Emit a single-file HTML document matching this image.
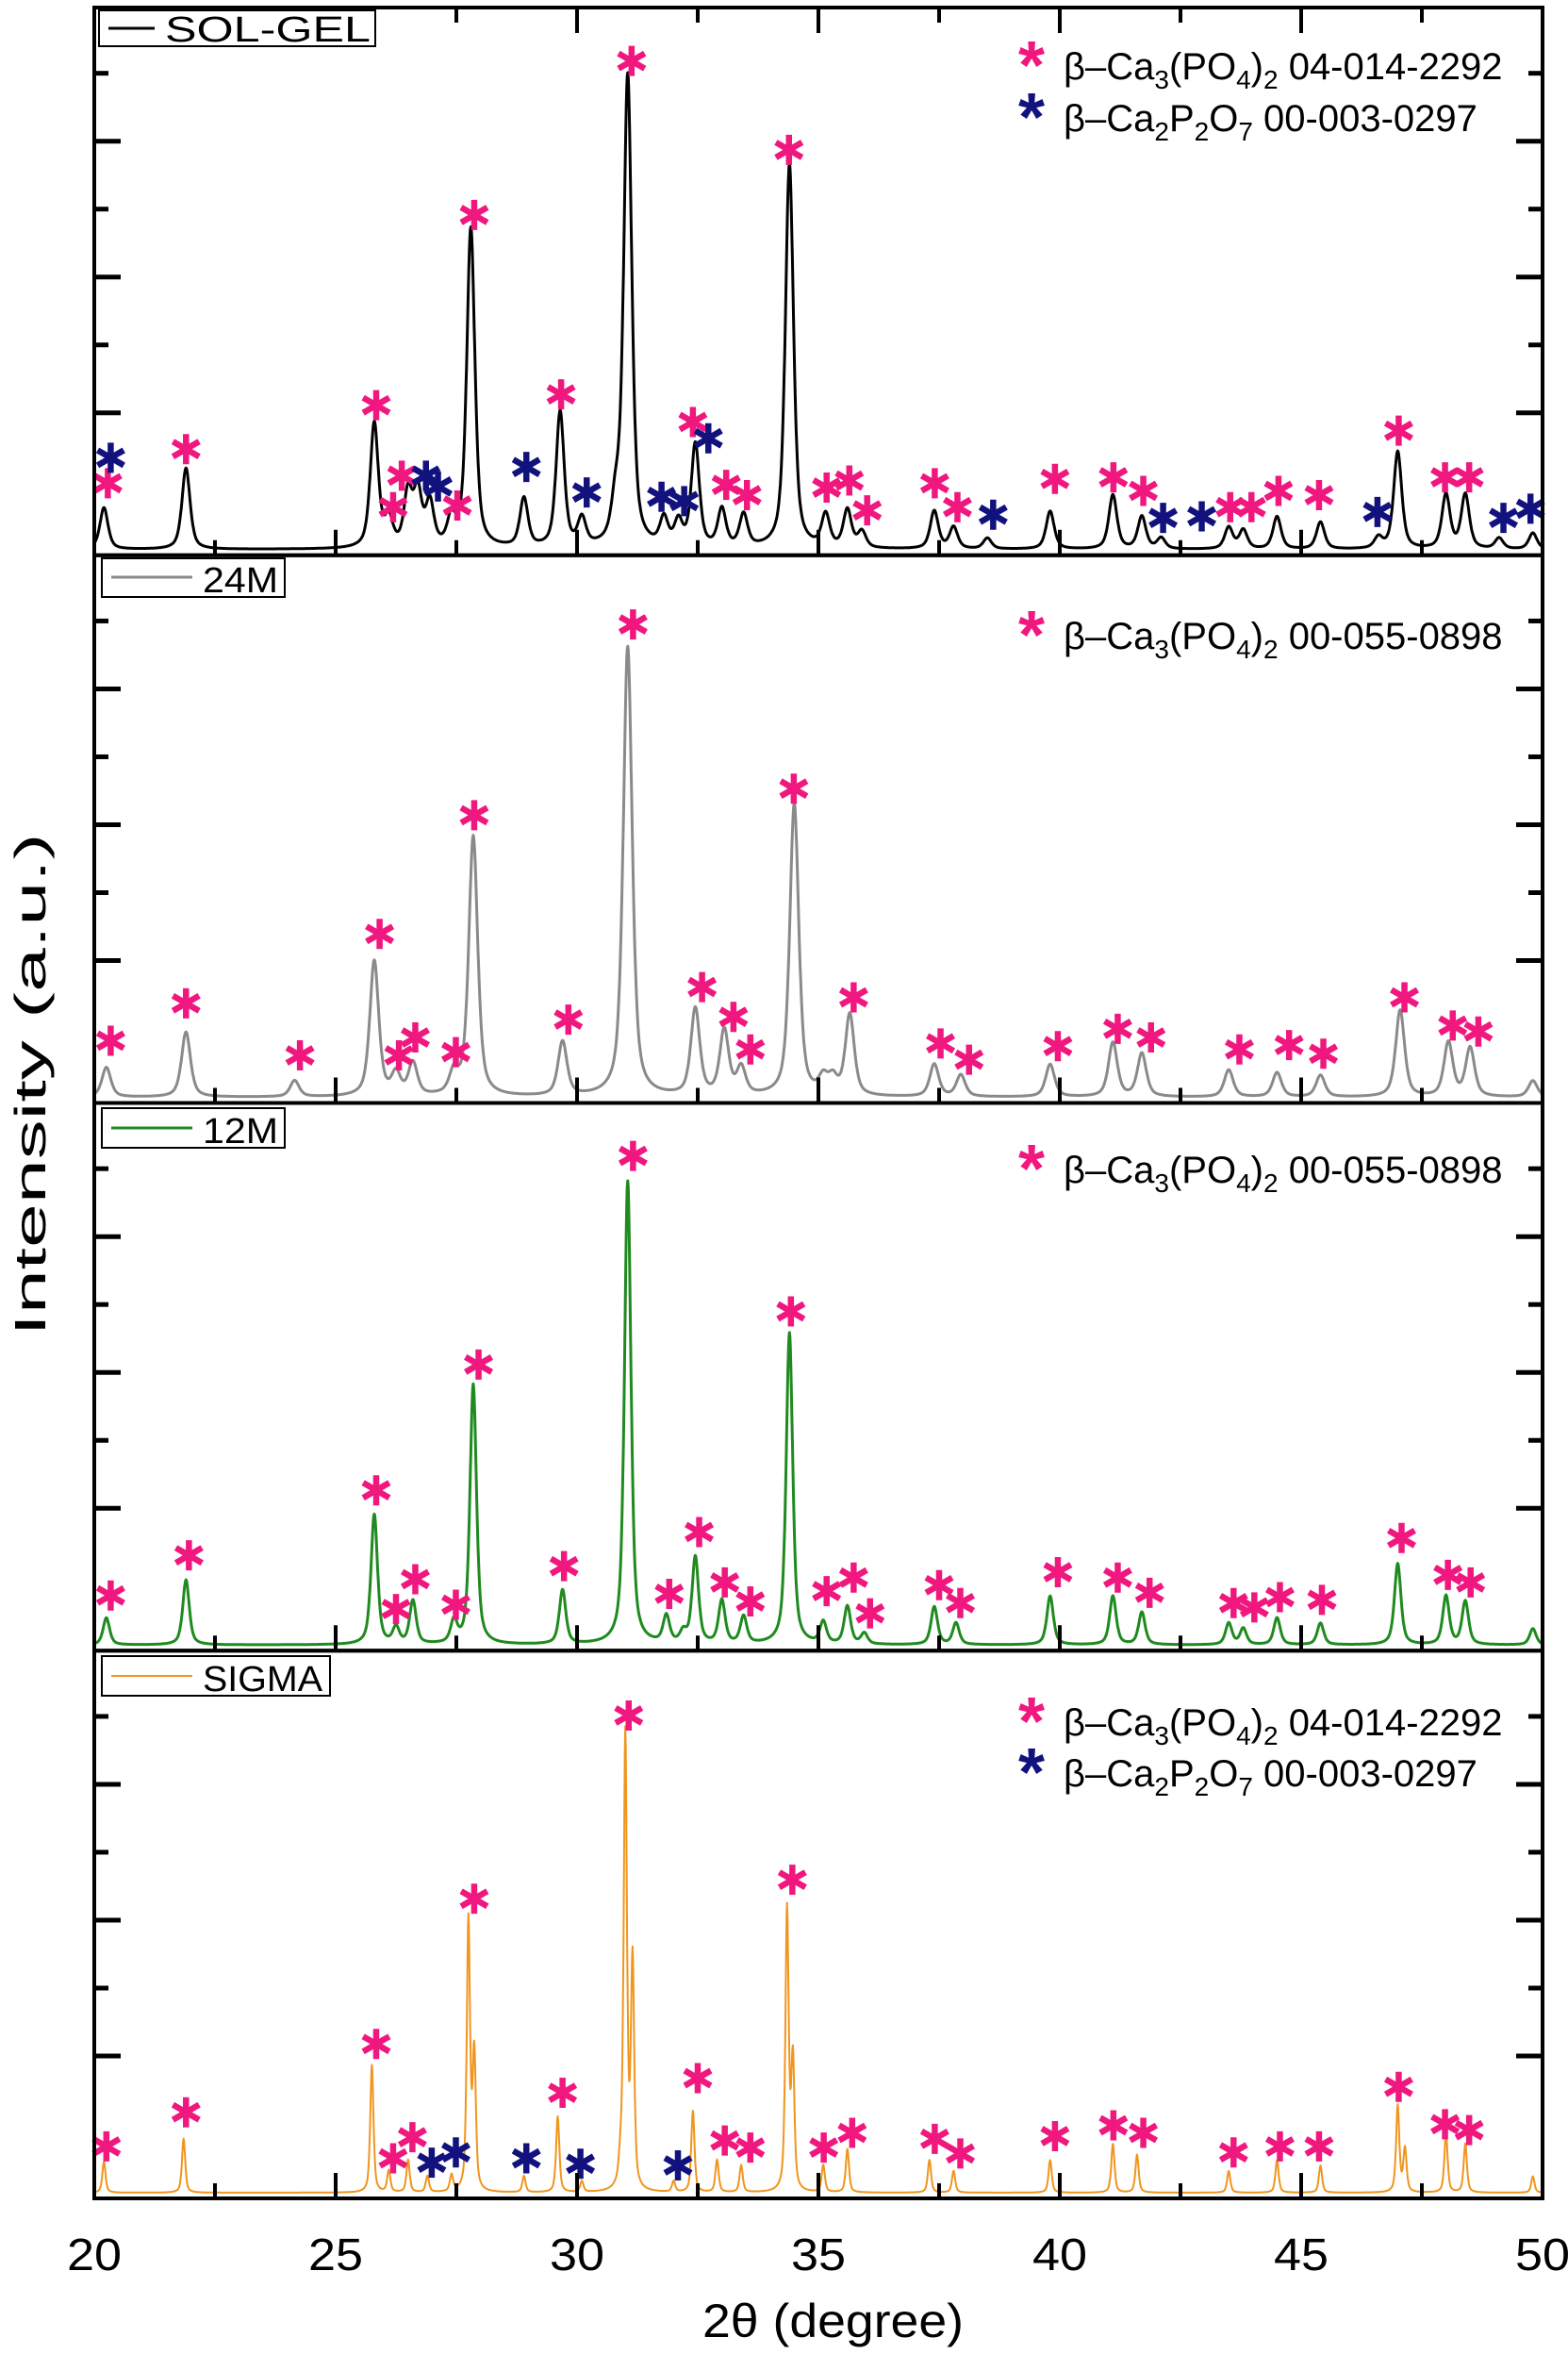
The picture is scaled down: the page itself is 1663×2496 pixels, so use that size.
<!DOCTYPE html>
<html><head><meta charset="utf-8"><style>
html,body{margin:0;padding:0;background:#fff;}
svg{display:block;font-family:"Liberation Sans",Arial,sans-serif;}
</style></head>
<body>
<svg id="chart" xmlns="http://www.w3.org/2000/svg" width="1663" height="2496" viewBox="0 0 1663 2496">
<rect x="0" y="0" width="1663" height="2496" fill="#fff"/>
<g id="curves"></g><g id="stars"></g><g id="axes"></g><g id="labels"></g>
</svg>
<script>
// ---- data ----
const seriesNames = ["SOL-GEL","24M","12M","SIGMA"];
const seriesColors = ["#000000","#8a8a8a","#1f8a1f","#f0951e"];
const seriesWidths = [0.2,0.22,0.16,0.08];
// peak positions (deg) and heights (fraction of panel)
const solgelPos = [20.2,21.9,25.8,26.1,26.5,26.7,26.95,27.4,27.8,28.9,29.65,30.1,30.8,31.05,31.8,32.1,32.45,33.0,33.45,34.4,35.15,35.6,35.9,37.4,37.8,38.5,39.8,41.1,41.7,42.1,43.5,43.8,44.5,45.4,46.6,47.0,48.0,48.4,49.1,49.8];
const solgelH   = [0.077,0.15,0.23,0.05,0.1,0.1,0.08,0.05,0.59,0.09,0.25,0.05,0.07,0.87,0.05,0.045,0.19,0.07,0.06,0.71,0.06,0.07,0.03,0.07,0.04,0.02,0.07,0.1,0.06,0.02,0.04,0.035,0.06,0.05,0.02,0.18,0.1,0.1,0.02,0.03];
const m24Pos = [20.25,21.9,24.15,25.8,26.25,26.6,27.45,27.85,29.7,31.05,32.45,33.05,33.4,34.5,35.1,35.3,35.65,37.4,37.95,39.8,41.1,41.7,43.5,44.5,45.4,47.05,48.05,48.5,49.8];
const m24H   = [0.055,0.12,0.03,0.25,0.04,0.06,0.04,0.48,0.1,0.83,0.16,0.12,0.05,0.54,0.03,0.03,0.15,0.06,0.04,0.06,0.1,0.08,0.05,0.045,0.04,0.16,0.1,0.09,0.03];
const m12Pos = [20.25,21.9,25.8,26.25,26.6,27.45,27.85,29.7,31.05,31.85,32.2,32.45,33.0,33.45,34.4,35.1,35.6,35.95,37.4,37.85,39.8,41.1,41.7,43.5,43.8,44.5,45.4,47.0,48.0,48.4,49.8];
const m12H   = [0.05,0.12,0.24,0.03,0.08,0.04,0.48,0.1,0.855,0.05,0.02,0.16,0.08,0.05,0.575,0.04,0.07,0.02,0.07,0.04,0.09,0.09,0.06,0.04,0.03,0.05,0.04,0.15,0.09,0.08,0.03];
const sigmaPos = [20.2,21.85,25.75,26.1,26.5,26.9,27.4,27.75,27.87,28.9,29.6,30.1,30.9,31.0,31.15,32.0,32.4,32.9,33.4,34.35,34.47,35.1,35.6,37.3,37.8,39.8,41.1,41.6,43.5,44.5,45.4,47.0,47.15,48.0,48.4,49.8];
const sigmaH   = [0.057,0.1,0.235,0.04,0.06,0.03,0.03,0.5,0.25,0.03,0.14,0.02,0.04,0.84,0.42,0.02,0.15,0.06,0.05,0.52,0.24,0.05,0.08,0.06,0.04,0.06,0.09,0.07,0.04,0.06,0.05,0.16,0.08,0.11,0.09,0.03];
// star markers: positions (deg) and heights (fraction)
const solgelPinkX = [20.28,21.9,25.84,26.19,26.37,27.52,27.87,29.67,31.13,32.4,33.09,33.52,34.39,35.17,35.64,36.01,37.41,37.88,39.9,41.11,41.73,43.53,43.97,44.53,45.37,47.02,47.98,48.48];
const solgelPinkY = [0.105,0.168,0.249,0.061,0.119,0.064,0.6,0.269,0.884,0.218,0.102,0.083,0.72,0.097,0.11,0.055,0.105,0.061,0.113,0.116,0.091,0.061,0.061,0.091,0.083,0.202,0.116,0.116];
const solgelNavyX = [20.34,26.87,27.12,28.95,30.2,31.75,32.22,32.72,38.62,42.14,42.94,46.58,49.19,49.75];
const solgelNavyY = [0.152,0.119,0.099,0.135,0.088,0.08,0.072,0.188,0.047,0.041,0.044,0.052,0.041,0.058];
const m24PinkX = [20.34,21.9,24.26,25.91,26.31,26.65,27.49,27.87,29.82,31.16,32.59,33.24,33.59,34.49,35.73,37.53,38.12,39.96,41.2,41.89,43.72,44.75,45.46,47.14,48.14,48.67];
const m24PinkY = [0.087,0.156,0.06,0.284,0.06,0.093,0.066,0.503,0.126,0.855,0.186,0.131,0.071,0.552,0.167,0.082,0.052,0.077,0.109,0.093,0.071,0.079,0.063,0.167,0.115,0.104];
const m12PinkX = [20.34,21.96,25.84,26.25,26.65,27.49,27.96,29.73,31.16,31.91,32.53,33.06,33.59,34.43,35.17,35.73,36.07,37.5,37.94,39.96,41.2,41.86,43.6,44.03,44.56,45.43,47.08,48.04,48.51];
const m12PinkY = [0.074,0.148,0.268,0.049,0.104,0.057,0.5,0.128,0.885,0.077,0.191,0.098,0.063,0.598,0.082,0.107,0.041,0.093,0.06,0.117,0.107,0.079,0.06,0.052,0.071,0.066,0.18,0.112,0.098];
const sigmaPinkX = [20.25,21.9,25.84,26.19,26.59,27.87,29.7,31.07,32.5,33.06,33.59,34.46,35.11,35.7,37.41,37.94,39.9,41.11,41.73,43.6,44.56,45.37,47.02,47.98,48.48];
const sigmaPinkY = [0.068,0.131,0.257,0.046,0.085,0.525,0.167,0.863,0.194,0.079,0.066,0.56,0.066,0.093,0.082,0.055,0.087,0.107,0.093,0.057,0.068,0.068,0.178,0.109,0.098];
const sigmaNavyX = [26.99,27.49,28.95,30.07,32.09];
const sigmaNavyY = [0.038,0.057,0.046,0.036,0.033];
const xTickLabels = ["20","25","30","35","40","45","50"];

// ---- layout ----
const NS="http://www.w3.org/2000/svg";
const L=100,R=1636,T=8,B=2331,PH=(B-T)/4;
function X(d){return L+(d-20)/30*(R-L);}
function panelBottom(i){return T+(i+1)*PH;}
function Y(i,f){return panelBottom(i)-6-f*(PH-6);}
function mk(tag,attrs,parent){const e=document.createElementNS(NS,tag);for(const k in attrs)e.setAttribute(k,attrs[k]);parent.appendChild(e);return e;}
const gC=document.getElementById('curves'),gS=document.getElementById('stars'),gA=document.getElementById('axes'),gL=document.getElementById('labels');

const peakPos=[solgelPos,m24Pos,m12Pos,sigmaPos], peakH=[solgelH,m24H,m12H,sigmaH];
for(let i=0;i<4;i++){
  const w=seriesWidths[i]/2;let pts=[];
  for(let d=20;d<=50.0001;d+=0.01){
    let v=0;
    for(let k=0;k<peakPos[i].length;k++){const z=(d-peakPos[i][k])/w;v+=peakH[i][k]*(0.6/(1+z*z)+0.4*Math.exp(-0.693*z*z));}
    pts.push(X(d).toFixed(1)+","+Y(i,v).toFixed(1));
  }
  const p=mk('polyline',{points:pts.join(' '),fill:'none',stroke:seriesColors[i],'stroke-width':i==3?2:3,'stroke-linejoin':'round'},gC);
  
  
}

function star(x,y,color,name){
  const g=mk('g',{},gS);
  
  
  const r=16;
  for(const a of [90,30,150]){const rad=a*Math.PI/180;
    mk('line',{x1:x-r*Math.cos(rad),y1:y-r*Math.sin(rad),x2:x+r*Math.cos(rad),y2:y+r*Math.sin(rad),stroke:color,'stroke-width':6.5,'stroke-linecap':'butt'},g);}
}
const PINK="#f0177f",NAVY="#12127e";
const pinkX=[solgelPinkX,m24PinkX,m12PinkX,sigmaPinkX],pinkY=[solgelPinkY,m24PinkY,m12PinkY,sigmaPinkY];
for(let i=0;i<4;i++){for(let k=0;k<pinkX[i].length;k++)star(X(pinkX[i][k]),Y(i,pinkY[i][k])-10,PINK,'tcp-peak-marker');}
for(let k=0;k<solgelNavyX.length;k++)star(X(solgelNavyX[k]),Y(0,solgelNavyY[k])-10,NAVY,'cpp-peak-marker');
for(let k=0;k<sigmaNavyX.length;k++)star(X(sigmaNavyX[k]),Y(3,sigmaNavyY[k])-10,NAVY,'cpp-peak-marker');

// axes
for(let i=0;i<4;i++){
  const top=T+i*PH,bot=panelBottom(i);
  const fr=mk('rect',{x:L,y:top,width:R-L,height:PH,fill:'none',stroke:'#000','stroke-width':4},gA);
  
  
  for(let k=2;k<=7;k++){const y=bot-(0.012+k*0.124)*PH,len=k%2==0?28:15;
    mk('line',{x1:L,y1:y,x2:L+len,y2:y,stroke:'#000','stroke-width':5},gA);
    mk('line',{x1:R,y1:y,x2:R-len,y2:y,stroke:'#000','stroke-width':5},gA);}
  for(let d=22.5;d<50;d+=2.5){const major=Math.abs(d%5)<0.01,len=major?27:16;
    mk('line',{x1:X(d),y1:bot,x2:X(d),y2:bot-len,stroke:'#000','stroke-width':4},gA);
    if(i==0)mk('line',{x1:X(d),y1:top,x2:X(d),y2:top+len,stroke:'#000','stroke-width':4},gA);}
}
for(let k=0;k<xTickLabels.length;k++){
  const t=mk('text',{x:X(20+k*5),y:2407,'font-size':48,'text-anchor':'middle',textLength:58,lengthAdjust:'spacingAndGlyphs'},gL);
  t.textContent=xTickLabels[k];
  
  
}
</script>
<svg style="position:absolute;left:0;top:0" width="1663" height="2496" font-family="Liberation Sans, Arial, sans-serif">
  <text x="745" y="2478" font-size="50" textLength="277" lengthAdjust="spacingAndGlyphs">2θ (degree)</text>
  <text transform="translate(48,1150) rotate(-90)" font-size="46" text-anchor="middle" textLength="533" lengthAdjust="spacingAndGlyphs">Intensity (a.u.)</text>

  <g>
    <rect x="105" y="11" width="293" height="38" fill="#fff" stroke="#000" stroke-width="2"/>
    <line x1="115" y1="30" x2="164" y2="30" stroke="#000" stroke-width="3"/>
    <text x="175" y="44" font-size="38" textLength="218" lengthAdjust="spacingAndGlyphs">SOL-GEL</text>
  </g>
  <g>
    <rect x="108" y="592" width="194" height="41" fill="#fff" stroke="#000" stroke-width="2"/>
    <line x1="118" y1="612" x2="204" y2="612" stroke="#8a8a8a" stroke-width="3"/>
    <text x="215" y="628" font-size="38" textLength="80" lengthAdjust="spacingAndGlyphs">24M</text>
  </g>
  <g>
    <rect x="108" y="1175" width="194" height="42" fill="#fff" stroke="#000" stroke-width="2"/>
    <line x1="118" y1="1196" x2="204" y2="1196" stroke="#1f8a1f" stroke-width="3"/>
    <text x="215" y="1212" font-size="38" textLength="80" lengthAdjust="spacingAndGlyphs">12M</text>
  </g>
  <g>
    <rect x="108" y="1756" width="242" height="42" fill="#fff" stroke="#000" stroke-width="2"/>
    <line x1="118" y1="1777" x2="204" y2="1777" stroke="#f0951e" stroke-width="2"/>
    <text x="215" y="1793" font-size="38" textLength="127" lengthAdjust="spacingAndGlyphs">SIGMA</text>
  </g>

  <g font-size="40">
    <text x="1080" y="94" fill="#f0177f" font-size="72" font-weight="bold">*</text>
    <text x="1128" y="84">β–Ca<tspan font-size="28" dy="10">3</tspan><tspan dy="-10">(PO</tspan><tspan font-size="28" dy="10">4</tspan><tspan dy="-10">)</tspan><tspan font-size="28" dy="10">2</tspan><tspan dy="-10"> 04-014-2292</tspan></text>
    <text x="1080" y="149" fill="#12127e" font-size="72" font-weight="bold">*</text>
    <text x="1128" y="139">β–Ca<tspan font-size="28" dy="10">2</tspan><tspan dy="-10">P</tspan><tspan font-size="28" dy="10">2</tspan><tspan dy="-10">O</tspan><tspan font-size="28" dy="10">7</tspan><tspan dy="-10"> 00-003-0297</tspan></text>
  </g>
  <g font-size="40">
    <text x="1080" y="698" fill="#f0177f" font-size="72" font-weight="bold">*</text>
    <text x="1128" y="688">β–Ca<tspan font-size="28" dy="10">3</tspan><tspan dy="-10">(PO</tspan><tspan font-size="28" dy="10">4</tspan><tspan dy="-10">)</tspan><tspan font-size="28" dy="10">2</tspan><tspan dy="-10"> 00-055-0898</tspan></text>
  </g>
  <g font-size="40">
    <text x="1080" y="1264" fill="#f0177f" font-size="72" font-weight="bold">*</text>
    <text x="1128" y="1254">β–Ca<tspan font-size="28" dy="10">3</tspan><tspan dy="-10">(PO</tspan><tspan font-size="28" dy="10">4</tspan><tspan dy="-10">)</tspan><tspan font-size="28" dy="10">2</tspan><tspan dy="-10"> 00-055-0898</tspan></text>
  </g>
  <g font-size="40">
    <text x="1080" y="1850" fill="#f0177f" font-size="72" font-weight="bold">*</text>
    <text x="1128" y="1840">β–Ca<tspan font-size="28" dy="10">3</tspan><tspan dy="-10">(PO</tspan><tspan font-size="28" dy="10">4</tspan><tspan dy="-10">)</tspan><tspan font-size="28" dy="10">2</tspan><tspan dy="-10"> 04-014-2292</tspan></text>
    <text x="1080" y="1904" fill="#12127e" font-size="72" font-weight="bold">*</text>
    <text x="1128" y="1894">β–Ca<tspan font-size="28" dy="10">2</tspan><tspan dy="-10">P</tspan><tspan font-size="28" dy="10">2</tspan><tspan dy="-10">O</tspan><tspan font-size="28" dy="10">7</tspan><tspan dy="-10"> 00-003-0297</tspan></text>
  </g>
</svg>
</body></html>
